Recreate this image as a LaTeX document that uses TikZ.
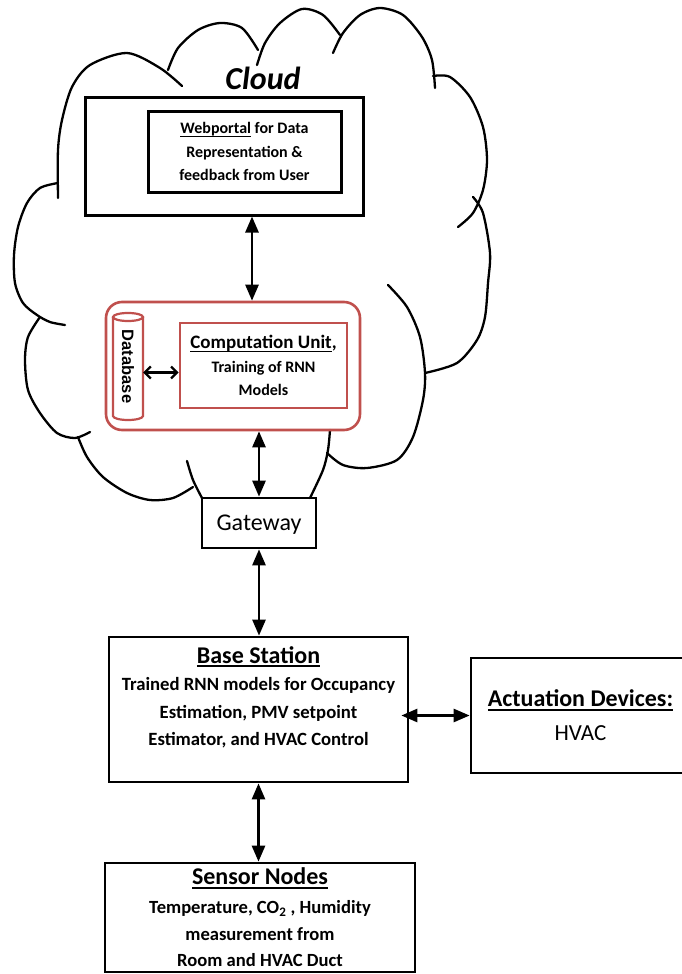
\documentclass[tikz,border=0pt]{standalone}
\usepackage{fontspec}
\setmainfont{Carlito}
\newfontfamily\dbfont{Liberation Sans}
\newcommand{\uln}[1]{\setbox0=\hbox{#1}\rlap{\vrule height -2.2pt depth 3.8pt width \wd0}\box0\relax}
\usetikzlibrary{arrows.meta}
\definecolor{cured}{RGB}{192,80,77}
\tikzset{
	box/.style={draw, line width=2.7pt, inner sep=0pt, align=center},
	redbox/.style={box, draw=cured, line width=2.6pt},
	cloudline/.style={line width=2.3pt, line cap=round},
	link/.style={line width=2.6pt, {Triangle[length=16pt,width=13pt]}-{Triangle[length=16pt,width=13pt]}},
	dblink/.style={line width=2.3pt, {Straight Barb[length=6pt,width=12pt]}-{Straight Barb[length=6pt,width=12pt]}},
	txt/.style={inner sep=0pt, align=center}
}
\begin{document}
\begin{tikzpicture}[x=1pt,y=-1pt]
		\useasboundingbox (0,0) rectangle (681,974);

		\draw[cloudline] plot[smooth] coordinates {(182,86) (160,68) (127,53) (90,65) (72,87) (62,120) (58,150) (58,198)};
		\draw[cloudline] plot[smooth] coordinates {(168,70) (178,48) (198,30) (220,23) (242,28) (258,50)};
		\draw[cloudline] plot[smooth] coordinates {(257,65) (265,43) (280,23) (302,9) (323,15) (340,35)};
		\draw[cloudline] plot[smooth] coordinates {(333,53) (343,33) (360,15) (380,8) (403,15) (422,37) (432,60) (435,88)};
		\draw[cloudline] plot[smooth] coordinates {(433,76) (450,77) (470,97) (483,127) (487,160) (483,190) (473,213) (458,227)};
		\draw[cloudline] plot[smooth] coordinates {(473,197) (483,213) (490,253) (488,283) (485,317) (477,340) (457,363) (425,373)};
		\draw[cloudline] plot[smooth] coordinates {(388,285) (407,307) (420,337) (425,373) (423,400) (413,437) (397,460) (367,468) (343,465) (327,453)};
		\draw[cloudline] plot[smooth] coordinates {(330,430) (328,450) (323,470) (310,498)};
		\draw[cloudline] plot[smooth] coordinates {(58,183) (40,188) (27,203) (18,227) (14,255) (15,283) (23,303) (37,315) (50,322) (65,325)};
		\draw[cloudline] plot[smooth] coordinates {(40,317) (28,337) (25,360) (28,390) (40,413) (57,433) (75,438) (90,432)};
		\draw[cloudline] plot[smooth] coordinates {(78,437) (87,457) (103,477) (127,493) (150,500) (173,498) (193,487)};
		\draw[cloudline] plot[smooth] coordinates {(187,461) (193,480) (202,498)};

		\node[txt, anchor=base, font=\bfseries\itshape\fontsize{32}{32}\selectfont] (cloud) at (263,89) {Cloud};

		\node[box, line width=3pt, minimum width=278, minimum height=118] (web1) at (224,156) {};
		\node[box, line width=3pt, minimum width=193, minimum height=81, font=\bfseries\fontsize{16}{23.5}\selectfont] (web2) at (244.5,151.5) {\uln{Webportal} for Data\\Representation \&\\feedback from User};

		\node[redbox, rounded corners=16pt, minimum width=254, minimum height=128] (cu) at (233,366) {};
		\node[redbox, minimum width=167, minimum height=85, font=\bfseries\fontsize{16}{23.5}\selectfont] (comp) at (263.5,365.5) {{\fontsize{19}{19}\selectfont\uln{Computation Unit},}\\Training of RNN\\Models};
		\node[inner sep=0pt, minimum width=30, minimum height=107] (db) at (128,366.5) {};
		\draw[draw=cured, line width=2.2pt, fill=white] (113,317) -- (113,416) arc[start angle=180, end angle=0, x radius=15, y radius=4] -- (143,317);
		\draw[draw=cured, line width=2.2pt] (128,317) ellipse [x radius=15, y radius=4];
		\node[txt, rotate=-90, font=\dbfont\bfseries\fontsize{16.5}{16.5}\selectfont] (dbtxt) at (db.center) {Database};

		\node[box, minimum width=114, minimum height=50, text depth=0pt, font=\fontsize{24}{24}\selectfont] (gate) at (259,523) {Gateway};

		\node[box, minimum width=299, minimum height=145] (base) at (258.5,709.5) {};
		\node[txt, anchor=north, font=\bfseries\fontsize{18.7}{27.5}\selectfont] (basetxt) at (258.5,646) {{\fontsize{24}{24}\selectfont\uln{Base Station}}\\Trained RNN models for Occupancy\\Estimation, PMV setpoint\\Estimator, and HVAC Control};

		\node[box, minimum width=219, minimum height=115, font=\fontsize{23}{34}\selectfont] (act) at (580.5,715.5) {{\bfseries\fontsize{24}{24}\selectfont\uln{Actuation Devices:}}\\HVAC};

		\node[box, minimum width=310, minimum height=109, font=\bfseries\fontsize{18.6}{26.5}\selectfont] (sens) at (260,917.5) {{\fontsize{24}{24}\selectfont\uln{Sensor Nodes}}\\[2.5pt]Temperature, CO\textsubscript{2} , Humidity\\measurement from\\Room and HVAC Duct};

		\draw[link] ([xshift=28pt]web1.south) -- ([xshift=28pt]web1.south |- cu.north);
		\draw[dblink] ([yshift=-6pt]db.east) -- ([yshift=-6pt]db.east -| comp.west);
		\draw[link] (cu.south -| gate.north) -- (gate.north);
		\draw[link] (gate.south) -- (gate.south |- base.north);
		\draw[link] ([xshift=-8pt]base.east |- act.west) -- (act.west);
		\draw[link] (base.south) -- (base.south |- sens.north);
\end{tikzpicture}
\end{document}
